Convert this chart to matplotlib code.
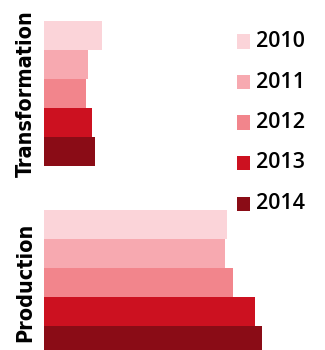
import numpy as np
import matplotlib
matplotlib.use("Agg")
import matplotlib.pyplot as plt
from matplotlib.patches import Rectangle

# values (arbitrary units, bar length in px)
categories = ["Transformation", "Production"]
years = ["2010", "2011", "2012", "2013", "2014"]
transformation = [58, 44, 42, 48, 51]
production = [183, 181, 189, 211, 218]
colors = ["#FBD4D9", "#F7A9B0", "#F2858C", "#CC1120", "#8A0C16"]

W, H = 325, 350
fig = plt.figure(figsize=(W / 100, H / 100), dpi=100)
ax = fig.add_axes([44 / W, 0, (W - 44) / W, (H - 21) / H])

group_start = [0, 6.5]
for g, vals in enumerate([transformation, production]):
    for i, v in enumerate(vals):
        ax.barh(group_start[g] + i, v, height=1.0, color=colors[i], linewidth=0)

ax.set_xlim(0, W - 44)
ax.set_ylim(-0.5 + (H - 21) / 29, -0.5)
for s in ax.spines.values():
    s.set_visible(False)
ax.set_xticks([])
ax.set_yticks([g + 2 for g in group_start])
ax.set_yticklabels(categories, rotation=90, va="center",
                   family="DejaVu Sans", fontstretch="condensed",
                   fontweight="heavy", fontsize=15.5)
ax.tick_params(axis="y", length=0, pad=6)

# legend
for i, (yr, c) in enumerate(zip(years, colors)):
    yc = 41.5 + i * 40.5
    fig.patches.append(Rectangle((237 / W, 1 - (yc + 7) / H), 13 / W, 14 / H,
                                 transform=fig.transFigure, color=c, lw=0))
    fig.text(256 / W, 1 - yc / H, yr, fontsize=15.5, family="Open Sans",
             fontweight="semibold", va="center", ha="left", color="black")

fig.savefig("out.png", dpi=100)
